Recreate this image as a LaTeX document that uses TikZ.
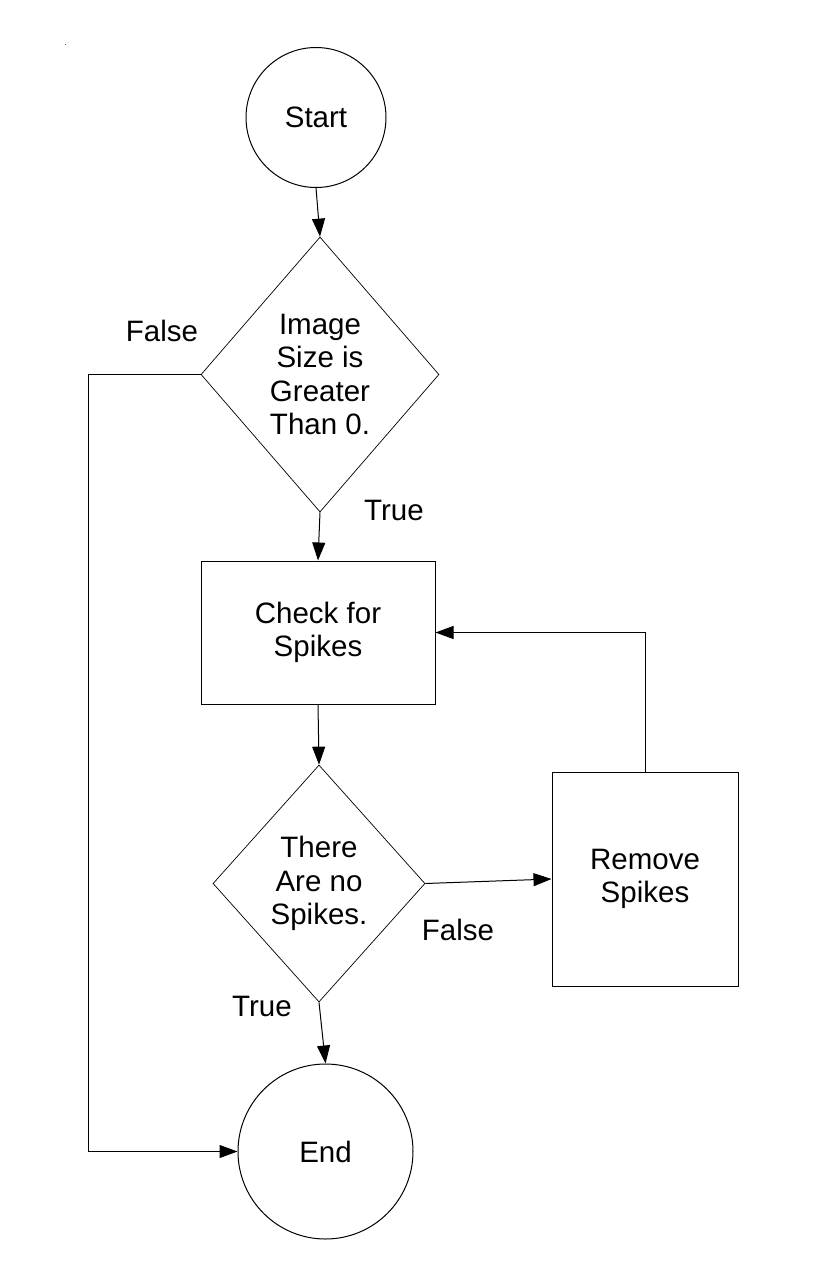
\documentclass[tikz,border=0pt]{standalone}
\usepackage{fontspec}
\setmainfont{Liberation Sans}
\usetikzlibrary{shapes.geometric,arrows.meta}
\begin{document}
\begin{tikzpicture}[x=1pt,y=-1pt,
  every node/.style={font=\fontsize{29.5}{33.5}\selectfont, align=center},
  ln/.style={draw=black, line width=1pt},
  arr/.style={ln, -{Triangle[length=18pt,width=13pt]}},
  term/.style={ln, circle, inner sep=0pt},
  dec/.style={ln, diamond, inner sep=0pt, line width=0.7pt},
  proc/.style={ln, rectangle, inner sep=0pt},
  lbl/.style={inner sep=0pt}]
\fill[white] (0,0) rectangle (840,1288);
\useasboundingbox (0,0) rectangle (840,1288);
\fill[black!70] (64.5,43.5) rectangle (66,45);
\node[term, minimum size=140pt] (start) at (316,117.5) {Start};
\node[dec, minimum width=238pt, minimum height=275pt] (d1) at (320,374.5) {Image\\Size is\\Greater\\Than 0.};
\node[proc, minimum width=234pt, minimum height=143pt] (b1) at (318,632.5) {Check for\\Spikes};
\node[dec, minimum width=212pt, minimum height=237pt] (d2) at (319,883.5) {There\\Are no\\Spikes.};
\node[proc, minimum width=186pt, minimum height=214pt] (b2) at (645,879) {Remove\\Spikes};
\node[term, minimum size=175pt] (end) at (325.5,1151.5) {End};
\node[lbl] (f1) at (162,331) {False};
\node[lbl] (t1) at (394,510) {True};
\node[lbl] (f2) at (458,930) {False};
\node[lbl] (t2) at (262,1006) {True};
\coordinate (fl) at (88,374.5);
\draw[arr] (start.south) -- (d1.north);
\draw[arr] (d1.south) -- (b1.north);
\draw[arr] (b1.south) -- (d2.north);
\draw[arr] (d2.east) -- (b2.west);
\draw[arr] (b2.north) |- (b1.east);
\draw[arr] (d2.south) -- (end.north);
\draw[arr] (d1.west) -- (fl) |- (end.west);
\end{tikzpicture}
\end{document}
